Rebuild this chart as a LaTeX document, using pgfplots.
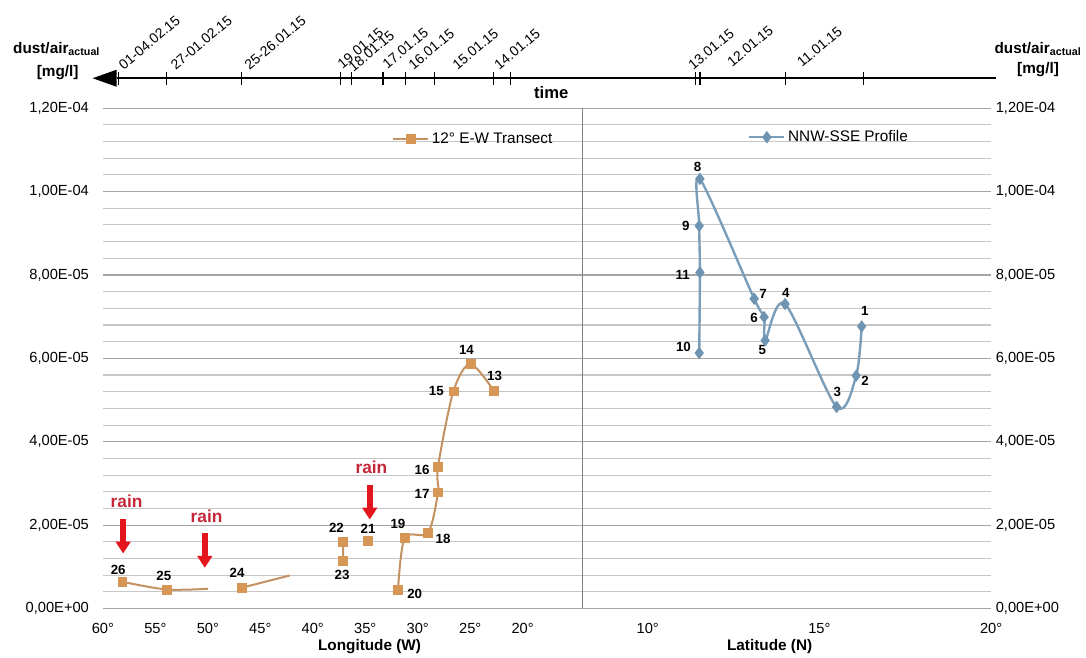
\documentclass[border=0pt]{standalone}
\usepackage{fontspec}
\setmainfont{Liberation Sans}
\usepackage{pgfplots}
\usepackage{pgfplotstable}
\pgfplotsset{compat=1.18}
\usetikzlibrary{arrows.meta}

\definecolor{trline}{RGB}{196,146,98}
\definecolor{trmark}{RGB}{214,150,86}
\definecolor{prline}{RGB}{122,158,186}
\definecolor{prmark}{RGB}{110,148,178}
\definecolor{gridminor}{RGB}{198,198,198}
\definecolor{gridmajor}{RGB}{165,165,165}
\definecolor{rainred}{RGB}{196,40,56}
\definecolor{arrowred}{RGB}{226,22,28}

\tikzset{lbl/.style={font=\bfseries\fontsize{10}{12}\selectfont, inner sep=0pt},
         rain/.style={font=\bfseries\fontsize{13}{15}\selectfont, text=rainred, inner sep=0pt}}

% 12 deg E-W transect: longitude (W), dust/air
\pgfplotstableread{
lon val
58.16 6.40e-6
53.93 4.55e-6
46.79 4.96e-6
37.11 11.50e-6
37.11 15.99e-6
34.73 16.30e-6
31.88 4.39e-6
31.24 16.94e-6
29.02 18.14e-6
28.07 27.87e-6
28.07 33.96e-6
26.60 52.08e-6
24.98 58.65e-6
22.76 52.25e-6
}\transectmarks

% drawn line pieces of the transect (gaps as in the figure)
\pgfplotstableread{
lon val
58.16 6.40e-6
53.93 4.55e-6
49.97 4.72e-6
nan nan
46.79 4.96e-6
42.19 7.91e-6
nan nan
37.11 11.50e-6
37.11 15.99e-6
nan nan
31.88 4.39e-6
31.24 16.94e-6
29.02 18.14e-6
28.07 27.87e-6
28.07 33.96e-6
26.60 52.08e-6
24.98 58.65e-6
22.76 52.25e-6
}\transectline

% NNW-SSE profile: latitude (N), dust/air (points 1..9, 11, 10)
\pgfplotstableread{
lat val
16.23 67.66e-6
16.07 55.84e-6
15.50 48.34e-6
14.00 73.03e-6
13.42 64.30e-6
13.39 69.91e-6
13.10 74.30e-6
11.52 103.06e-6
11.50 91.79e-6
11.52 80.60e-6
11.50 61.28e-6
}\profile

\pgfplotsset{
  mybase/.style={
    scale only axis, height=375.5pt,
    ymin=0, ymax=1.2e-4,
    ytick={0,2e-5,4e-5,6e-5,8e-5,1e-4,1.2e-4},
    yticklabels={{0,00E+00},{2,00E-05},{4,00E-05},{6,00E-05},{8,00E-05},{1,00E-04},{1,20E-04}},
    minor ytick={4e-6,8e-6,1.2e-5,1.6e-5,2.4e-5,2.8e-5,3.2e-5,3.6e-5,4.4e-5,4.8e-5,5.2e-5,5.6e-5,
                 6.4e-5,6.8e-5,7.2e-5,7.6e-5,8.4e-5,8.8e-5,9.2e-5,9.6e-5,1.04e-4,1.08e-4,1.12e-4,1.16e-4},
    scaled y ticks=false, scaled x ticks=false,
    ymajorgrids, yminorgrids,
    major grid style={draw=gridmajor, line width=0.8pt},
    minor grid style={draw=gridminor, line width=0.8pt},
    axis line style={draw=none},
    major tick length=0pt, minor tick length=0pt,
    tick style={draw=none},
    ticklabel style={font=\fontsize{11}{13}\selectfont},
    xticklabel style={yshift=-7.5pt},
    xlabel style={font=\bfseries\fontsize{11.5}{13}\selectfont, anchor=center},
    clip=false,
    unbounded coords=jump,
    legend cell align=left,
  }
}

\begin{document}
\begin{tikzpicture}
\begin{scope}[x=0.75pt,y=-0.75pt]
\useasboundingbox (0,0) rectangle (1086,657);
\end{scope}

% ---------------- left: longitude -----------------
\begin{axis}[mybase,
  at={(77.25pt,-456.75pt)}, anchor=south west,
  width=360pt,
  x dir=reverse, xmin=14.3, xmax=60,
  xtick={20,25,30,35,40,45,50,55,60},
  xticklabels={20°,25°,30°,35°,40°,45°,50°,55°,60°},
  yticklabel style={xshift=-7pt},
  xlabel={Longitude (W)},
  xlabel style={at={(rel axis cs:0.556,0)}, yshift=-28.3pt},
  legend style={at={(rel axis cs:0.603,0.9387)}, anchor=west, draw=none, fill=none,
    font=\fontsize{11.5}{13}\selectfont, inner sep=0pt},
]
\addplot[trline, line width=1.5pt, smooth, tension=0.5, forget plot] table[x=lon,y=val] {\transectline};
\addplot[only marks, mark=square*, mark size=3.3pt, mark options={fill=trmark, draw=trmark},
  legend image code/.code={
    \draw[trline, line width=1.5pt] (0cm,0cm) -- (0.92cm,0cm);
    \draw[mark=square*, mark size=3.3pt, mark options={fill=trmark, draw=trmark}] plot coordinates {(0.46cm,0cm)};
  }] table[x=lon,y=val] {\transectmarks};
\addlegendentry{12° E-W Transect}

% point numbers
\node[lbl] at (axis cs:58.54,9.35e-6) {26};
\node[lbl] at (axis cs:54.19,7.74e-6) {25};
\node[lbl] at (axis cs:47.21,8.56e-6) {24};
\node[lbl] at (axis cs:37.74,19.34e-6) {22};
\node[lbl] at (axis cs:34.73,19.17e-6) {21};
\node[lbl] at (axis cs:37.21,8.15e-6) {23};
\node[lbl] at (axis cs:30.29,3.52e-6) {20};
\node[lbl] at (axis cs:31.88,20.30e-6) {19};
\node[lbl] at (axis cs:27.59,16.70e-6) {18};
\node[lbl] at (axis cs:29.59,27.49e-6) {17};
\node[lbl] at (axis cs:29.59,33.15e-6) {16};
\node[lbl] at (axis cs:28.22,52.25e-6) {15};
\node[lbl] at (axis cs:25.36,61.91e-6) {14};
\node[lbl] at (axis cs:22.67,55.84e-6) {13};

% rain annotations
\node[rain] at (axis cs:57.74,25.72e-6) {rain};
\node[rain] at (axis cs:50.12,22.12e-6) {rain};
\node[rain] at (axis cs:34.41,33.96e-6) {rain};
\draw[arrowred, line width=4.5pt, -{Triangle[length=9pt,width=11pt]}] (axis cs:58.07,21.50e-6) -- (axis cs:58.07,13.18e-6);
\draw[arrowred, line width=4.5pt, -{Triangle[length=9pt,width=11pt]}] (axis cs:50.29,18.14e-6) -- (axis cs:50.29,9.75e-6);
\draw[arrowred, line width=4.5pt, -{Triangle[length=9pt,width=11pt]}] (axis cs:34.57,29.72e-6) -- (axis cs:34.57,21.33e-6);
\end{axis}

% ---------------- right: latitude -----------------
\begin{axis}[mybase,
  at={(437.25pt,-456.75pt)}, anchor=south west,
  width=306.75pt,
  xmin=8.1, xmax=20,
  xtick={10,15,20},
  xticklabels={10°,15°,20°},
  yticklabel pos=right,
  xlabel={Latitude (N)},
  xlabel style={at={(rel axis cs:0.458,0)}, yshift=-28.3pt},
  legend style={at={(rel axis cs:0.405,0.942)}, anchor=west, draw=none, fill=none,
    font=\fontsize{11.5}{13}\selectfont, inner sep=0pt},
]
\draw[gray, line width=0.8pt] (rel axis cs:0,0) -- (rel axis cs:0,1);
\addplot[prline, line width=1.8pt, smooth, tension=0.5, mark=diamond*, mark size=3.2pt,
  mark options={fill=prmark, draw=prmark},
  legend image code/.code={
    \draw[prline, line width=1.8pt] (0cm,0cm) -- (0.92cm,0cm);
    \draw[mark=diamond*, mark size=3.2pt, mark options={fill=prmark, draw=prmark}] plot coordinates {(0.46cm,0cm)};
  }] table[x=lat,y=val] {\profile};
\addlegendentry{NNW-SSE Profile}

\node[lbl] at (axis cs:11.45,106.0e-6) {8};
\node[lbl] at (axis cs:11.11,91.79e-6) {9};
\node[lbl] at (axis cs:11.02,80.05e-6) {11};
\node[lbl] at (axis cs:11.04,62.66e-6) {10};
\node[lbl] at (axis cs:13.36,75.49e-6) {7};
\node[lbl] at (axis cs:13.10,69.58e-6) {6};
\node[lbl] at (axis cs:13.34,61.91e-6) {5};
\node[lbl] at (axis cs:14.02,75.81e-6) {4};
\node[lbl] at (axis cs:15.52,52.01e-6) {3};
\node[lbl] at (axis cs:16.33,54.64e-6) {2};
\node[lbl] at (axis cs:16.32,71.49e-6) {1};
\end{axis}

% ---------------- top: time axis -----------------
\begin{scope}[x=0.75pt,y=-0.75pt]
\fill (92.7,78.3) -- (116.7,69.8) -- (116.7,86.8) -- cycle;
\draw[line width=1.1pt] (116.7,78.3) -- (996.7,78.3);
\foreach \t in {118.3,166.7,241.7,340.7,351.7,383.3,405.7,435,494,510.7,696,700.7,786,864}
  \draw[line width=0.9pt] (\t,72) -- (\t,85);
\begin{scope}[every node/.style={rotate=40, anchor=south west, inner sep=0pt, font=\fontsize{10.5}{12}\selectfont}]
\node at (124,71) {01-04.02.15};
\node at (176,71) {27-01.02.15};
\node at (250,71) {25-26.01.15};
\node at (343,70) {19.01.15};
\node at (354,73) {18.01.15};
\node at (388,70) {17.01.15};
\node at (414,71) {16.01.15};
\node at (458,71) {15.01.15};
\node at (500,71) {14.01.15};
\node at (694,71) {13.01.15};
\node at (733,68) {12.01.15};
\node at (803,68) {11.01.15};
\end{scope}
\node[font=\bfseries\fontsize{12.5}{14}\selectfont] at (551.7,92.7) {time};
\node[font=\bfseries\fontsize{11.5}{13}\selectfont] at (56.7,49) {dust/air\textsubscript{actual}};
\node[font=\bfseries\fontsize{11.5}{13}\selectfont] at (57.7,73) {[mg/l]};
\node[font=\bfseries\fontsize{11.5}{13}\selectfont] at (1039,49) {dust/air\textsubscript{actual}};
\node[font=\bfseries\fontsize{11.5}{13}\selectfont] at (1039,70) {[mg/l]};
\end{scope}
\end{tikzpicture}
\end{document}
